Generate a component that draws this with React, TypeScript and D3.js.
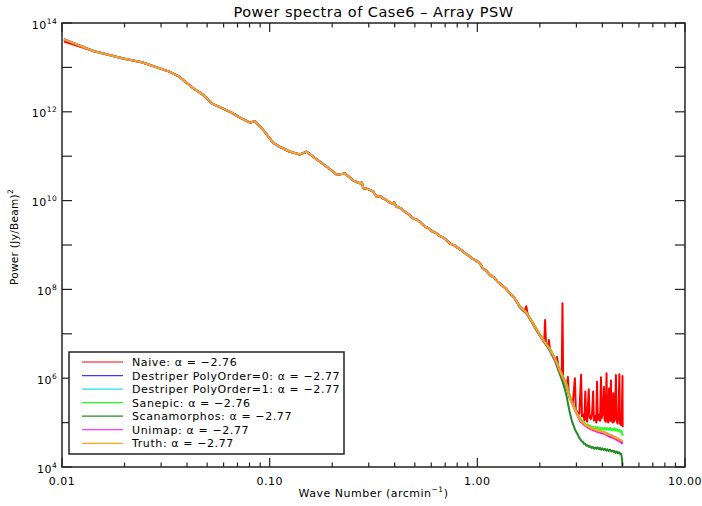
import React from 'react';
import * as d3 from 'd3';

// wave number (arcmin^-1), log10 power ((Jy/Beam)^2)
type Pt = [number, number];

// part of the spectrum where every map agrees
const commonSpectrum: Pt[] = [
  [0.01023, 13.63], [0.01416, 13.37], [0.01972, 13.2], [0.02421, 13.115], [0.03311, 12.9],
  [0.03698, 12.78], [0.04285, 12.53], [0.04786, 12.38], [0.0526, 12.19], [0.06561, 11.98],
  [0.07194, 11.87], [0.08035, 11.755], [0.08492, 11.79], [0.09311, 11.59], [0.104, 11.3],
  [0.1143, 11.19], [0.1253, 11.1], [0.14, 11.04], [0.1507, 11.1], [0.1683, 10.93],
  [0.1914, 10.74], [0.2104, 10.58], [0.2307, 10.61], [0.2529, 10.45], [0.262, 10.42],
  [0.2723, 10.39], [0.278, 10.41], [0.2825, 10.28], [0.293, 10.27], [0.3041, 10.24],
  [0.315, 10.2], [0.3273, 10.09], [0.34, 10.1], [0.352, 10.05], [0.3656, 10.01],
  [0.378, 9.96], [0.39, 9.93], [0.398, 9.96], [0.4083, 9.86], [0.428, 9.83],
  [0.4477, 9.75], [0.47, 9.68], [0.4909, 9.6], [0.51, 9.57], [0.53, 9.52],
  [0.545, 9.46], [0.5598, 9.41], [0.58, 9.38], [0.605, 9.31], [0.6368, 9.26],
  [0.66, 9.2], [0.685, 9.17], [0.7112, 9.11], [0.74, 9.03], [0.775, 8.99],
  [0.8091, 8.93], [0.84, 8.88], [0.87, 8.82], [0.9036, 8.77], [0.94, 8.7],
  [0.98, 8.66], [1.028, 8.59], [1.06, 8.48], [1.1, 8.43], [1.151, 8.32],
  [1.2, 8.27], [1.25, 8.18], [1.309, 8.1], [1.37, 8.02], [1.436, 7.91],
  [1.5, 7.82], [1.55, 7.72],
];

const naiveStart: Pt[] = [[0.01023, 13.58]];

const naiveTail: Pt[] = [
  [1.6, 7.61], [1.68, 7.5], [1.72, 7.62], [1.75, 7.43], [1.86, 7.22], [2.0, 6.98],
  [2.1, 6.83], [2.12, 7.31], [2.14, 6.8], [2.19, 6.72], [2.21, 6.86], [2.24, 6.64],
  [2.34, 6.45], [2.4, 6.38], [2.42, 6.48], [2.45, 6.28], [2.51, 6.14], [2.55, 6.05],
  [2.57, 7.69], [2.59, 6.0], [2.63, 5.93], [2.69, 5.8], [2.73, 6.03], [2.76, 5.62],
  [2.82, 5.52], [2.88, 5.42], [2.95, 6.0], [2.98, 5.3], [3.04, 5.22], [3.1, 5.2],
  [3.16, 6.08], [3.19, 5.14], [3.24, 5.18], [3.28, 5.05], [3.31, 5.7], [3.34, 5.1],
  [3.38, 5.02], [3.44, 5.75], [3.47, 5.12], [3.52, 5.08], [3.57, 5.2], [3.61, 5.7],
  [3.64, 5.05], [3.7, 5.15], [3.74, 5.0], [3.77, 5.92], [3.8, 5.06], [3.86, 5.18],
  [3.9, 5.04], [3.94, 6.02], [3.97, 5.1], [4.02, 5.22], [4.07, 5.8], [4.1, 5.06],
  [4.15, 5.02], [4.19, 6.11], [4.22, 5.08], [4.27, 5.0], [4.31, 5.77], [4.34, 5.1],
  [4.37, 5.04], [4.4, 5.95], [4.43, 5.12], [4.48, 5.0], [4.52, 5.66], [4.55, 5.02],
  [4.6, 5.14], [4.65, 6.07], [4.68, 5.05], [4.73, 4.98], [4.78, 5.15], [4.83, 6.09],
  [4.86, 4.98], [4.92, 4.95], [4.96, 5.05], [5.0, 6.05], [5.01, 4.9],
];

const truthTail: Pt[] = [
  [1.6, 7.61], [1.66, 7.55], [1.73, 7.46], [1.8, 7.33], [1.86, 7.22], [1.93, 7.1],
  [2.0, 6.97], [2.06, 6.88], [2.12, 6.8], [2.18, 6.72], [2.24, 6.64], [2.3, 6.55],
  [2.37, 6.42], [2.44, 6.29], [2.5, 6.16], [2.56, 6.05], [2.62, 5.95], [2.69, 5.82],
  [2.74, 5.68], [2.79, 5.55], [2.86, 5.42], [2.95, 5.3], [3.04, 5.16], [3.13, 5.05],
  [3.22, 5.0], [3.3, 4.95], [3.35, 4.92], [3.4, 4.93], [3.45, 4.89], [3.49, 4.9],
  [3.55, 4.86], [3.6, 4.88], [3.65, 4.84], [3.7, 4.85], [3.75, 4.82], [3.8, 4.84],
  [3.85, 4.8], [3.9, 4.82], [3.95, 4.79], [4.0, 4.8], [4.06, 4.77], [4.12, 4.78],
  [4.18, 4.74], [4.23, 4.76], [4.29, 4.72], [4.35, 4.73], [4.41, 4.7], [4.47, 4.71],
  [4.53, 4.67], [4.58, 4.68], [4.64, 4.65], [4.7, 4.66], [4.76, 4.62], [4.82, 4.63],
  [4.88, 4.6], [4.95, 4.6], [5.0, 4.57],
];

const destriper0Tail: Pt[] = [
  [1.6, 7.61], [1.73, 7.46], [1.86, 7.22], [2.0, 6.97], [2.12, 6.8], [2.24, 6.64],
  [2.37, 6.42], [2.5, 6.16], [2.62, 5.95], [2.69, 5.82], [2.79, 5.55], [2.95, 5.3],
  [3.13, 5.05], [3.3, 4.95], [3.49, 4.88], [3.7, 4.83], [3.9, 4.8], [4.12, 4.77],
  [4.35, 4.72], [4.58, 4.67], [4.82, 4.62], [5.0, 4.56],
];

const destriper1Tail: Pt[] = [
  [1.6, 7.61], [1.73, 7.46], [1.86, 7.22], [2.0, 6.97], [2.12, 6.8], [2.24, 6.64],
  [2.37, 6.42], [2.5, 6.16], [2.62, 5.95], [2.69, 5.82], [2.79, 5.55], [2.95, 5.3],
  [3.13, 5.05], [3.3, 4.95], [3.49, 4.88], [3.7, 4.84], [3.9, 4.81], [4.12, 4.78],
  [4.35, 4.73], [4.58, 4.68], [4.82, 4.63], [5.0, 4.58],
];

const sanepicTail: Pt[] = [
  [1.6, 7.63], [1.73, 7.48], [1.86, 7.24], [2.0, 6.99], [2.12, 6.82], [2.24, 6.66],
  [2.37, 6.45], [2.5, 6.19], [2.62, 5.99], [2.69, 5.87], [2.79, 5.62], [2.86, 5.46],
  [2.95, 5.33], [3.04, 5.19], [3.13, 5.09], [3.22, 5.03], [3.3, 4.98], [3.35, 4.94],
  [3.4, 4.96], [3.45, 4.92], [3.49, 4.93], [3.55, 4.89], [3.6, 4.91], [3.65, 4.87],
  [3.7, 4.9], [3.75, 4.86], [3.8, 4.9], [3.85, 4.86], [3.9, 4.88], [3.95, 4.85],
  [4.0, 4.88], [4.06, 4.84], [4.12, 4.88], [4.18, 4.84], [4.23, 4.87], [4.29, 4.84],
  [4.35, 4.88], [4.41, 4.83], [4.47, 4.86], [4.53, 4.83], [4.58, 4.87], [4.64, 4.82],
  [4.7, 4.85], [4.76, 4.81], [4.82, 4.84], [4.88, 4.79], [4.95, 4.81], [4.99, 4.74],
  [5.0, 4.7],
];

const scanamorphosTail: Pt[] = [
  [1.6, 7.6], [1.73, 7.45], [1.86, 7.2], [2.0, 6.95], [2.12, 6.78], [2.24, 6.61],
  [2.37, 6.38], [2.5, 6.08], [2.56, 5.95], [2.62, 5.8], [2.69, 5.6], [2.74, 5.4],
  [2.79, 5.22], [2.86, 5.02], [2.95, 4.85], [3.0, 4.78], [3.04, 4.74], [3.09, 4.66],
  [3.13, 4.63], [3.18, 4.58], [3.22, 4.57], [3.26, 4.52], [3.3, 4.53], [3.35, 4.48],
  [3.4, 4.49], [3.45, 4.45], [3.49, 4.47], [3.55, 4.43], [3.6, 4.45], [3.65, 4.41],
  [3.7, 4.44], [3.75, 4.41], [3.8, 4.44], [3.85, 4.4], [3.9, 4.43], [3.95, 4.39],
  [4.0, 4.42], [4.06, 4.38], [4.12, 4.41], [4.18, 4.37], [4.23, 4.4], [4.29, 4.36],
  [4.35, 4.39], [4.41, 4.35], [4.47, 4.37], [4.53, 4.34], [4.58, 4.36], [4.64, 4.32],
  [4.7, 4.35], [4.76, 4.31], [4.82, 4.33], [4.88, 4.29], [4.93, 4.3], [4.97, 4.2],
  [5.0, 4.03],
];

const unimapTail: Pt[] = [
  [1.6, 7.61], [1.73, 7.46], [1.86, 7.22], [2.0, 6.97], [2.12, 6.8], [2.24, 6.64],
  [2.37, 6.42], [2.5, 6.16], [2.62, 5.95], [2.69, 5.82], [2.79, 5.55], [2.95, 5.29],
  [3.13, 5.03], [3.3, 4.93], [3.49, 4.86], [3.7, 4.81], [3.9, 4.77], [4.12, 4.74],
  [4.35, 4.68], [4.58, 4.64], [4.7, 4.61], [4.82, 4.58], [4.95, 4.55], [5.0, 4.52],
];

const seriesNames = [
  'Naive', 'Destriper PolyOrder=0', 'Destriper PolyOrder=1', 'Sanepic',
  'Scanamorphos', 'Unimap', 'Truth',
];
const alphas = ['-2.76', '-2.77', '-2.77', '-2.76', '-2.77', '-2.77', '-2.77'];
const colors = ['#ff0000', '#3a3aff', '#22ddee', '#22ff22', '#228b22', '#ff00ff', '#ffa31a'];

const xTickLabels = [0.01, 0.1, 1, 10];
const yLabelExps = [4, 6, 8, 10, 12, 14];

const font = '"DejaVu Sans", sans-serif';

const App = () => {
  const width = 702;
  const height = 506;
  const margin = { top: 23, right: 17, bottom: 39, left: 62 };

  const x = d3.scaleLog().domain([0.01, 10]).range([margin.left, width - margin.right]);
  const y = d3.scaleLog().domain([1e4, 1e14]).range([height - margin.bottom, margin.top]);

  const x0 = margin.left;
  const x1 = width - margin.right;
  const y0 = height - margin.bottom;
  const y1 = margin.top;

  const line = d3
    .line<Pt>()
    .x((d) => x(d[0]))
    .y((d) => y(Math.pow(10, d[1])));

  const series: Pt[][] = [
    naiveStart.concat(commonSpectrum.slice(1), naiveTail),
    commonSpectrum.concat(destriper0Tail),
    commonSpectrum.concat(destriper1Tail),
    commonSpectrum.concat(sanepicTail),
    commonSpectrum.concat(scanamorphosTail),
    commonSpectrum.concat(unimapTail),
    commonSpectrum.concat(truthTail),
  ];

  const xTicks = x.ticks();
  const isMajor = (v: number) => Math.abs(Math.log10(v) - Math.round(Math.log10(v))) < 1e-6;
  const yTicks = d3.range(4, 15).map((e) => Math.pow(10, e));
  const fmt = d3.format('.2f');

  const legendX = 69;
  const legendY = 352;
  const rowH = 13.55;

  return (
    <svg
      width={width}
      height={height}
      style={{ position: 'absolute', left: 0, top: 0, background: '#fff', fontFamily: font }}
    >
      <rect x={0} y={0} width={width} height={height} fill="#fff" />

      {/* data */}
      <g fill="none" strokeWidth={2} strokeLinejoin="round">
        {series.map((s, i) => (
          <path key={i} d={line(s) || ''} stroke={colors[i]} />
        ))}
      </g>

      {/* frame */}
      <rect x={x0} y={y1} width={x1 - x0} height={y0 - y1} fill="none" stroke="#222" strokeWidth={1.5} />

      {/* ticks on all four sides, pointing in */}
      <g stroke="#222" strokeWidth={1.2}>
        {xTicks.map((t, i) => {
          const len = isMajor(t) ? 9 : 4.5;
          return (
            <g key={i}>
              <line x1={x(t)} x2={x(t)} y1={y0} y2={y0 - len} />
              <line x1={x(t)} x2={x(t)} y1={y1} y2={y1 + len} />
            </g>
          );
        })}
        {yTicks.map((t, i) => (
          <g key={i}>
            <line x1={x0} x2={x0 + 10} y1={y(t)} y2={y(t)} />
            <line x1={x1} x2={x1 - 10} y1={y(t)} y2={y(t)} />
          </g>
        ))}
      </g>

      {/* tick labels */}
      <g fontSize={11} fill="#000" letterSpacing={0.5}>
        {xTickLabels.map((t, i) => (
          <text key={i} x={x(t)} y={y0 + 18} textAnchor="middle">
            {fmt(t)}
          </text>
        ))}
        {yLabelExps.map((e) => (
          <text key={e} x={57} y={y(Math.pow(10, e)) + 5.5} textAnchor="end">
            <tspan>10</tspan>
            <tspan dy={-5} fontSize={7.5} letterSpacing={0.3}>
              {e}
            </tspan>
          </text>
        ))}
      </g>

      {/* title and axis titles */}
      <text x={(x0 + x1) / 2} y={17} textAnchor="middle" fontSize={14.5} letterSpacing={0.5}>
        Power spectra of Case6 – Array PSW
      </text>
      <text x={(x0 + x1) / 2} y={497} textAnchor="middle" fontSize={11} letterSpacing={0.5}>
        Wave Number (arcmin
        <tspan dy={-5} fontSize={7.5}>
          −1
        </tspan>
        <tspan dy={5}>)</tspan>
      </text>
      <text transform="translate(18,237) rotate(-90)" textAnchor="middle" fontSize={10.5} letterSpacing={0.3}>
        Power (Jy/Beam)
        <tspan dy={-5} fontSize={7.5}>
          2
        </tspan>
      </text>

      {/* legend */}
      <rect x={legendX} y={legendY} width={275} height={102} fill="#fff" stroke="#222" strokeWidth={1.5} />
      {seriesNames.map((name, i) => {
        const ry = legendY + 10 + i * rowH;
        return (
          <g key={name}>
            <line x1={82} x2={123} y1={ry} y2={ry} stroke={colors[i]} strokeWidth={1.2} />
            <text x={132} y={ry + 4} fontSize={11} letterSpacing={0.6}>
              {`${name}: α = ${alphas[i].replace('-', '−')}`}
            </text>
          </g>
        );
      })}
    </svg>
  );
};

export default App;
